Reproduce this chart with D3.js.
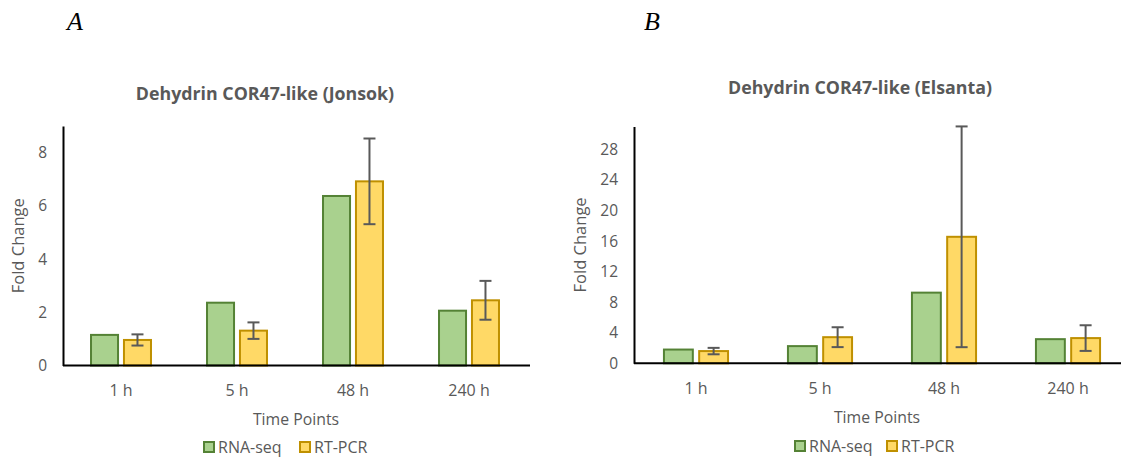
<!DOCTYPE html>
<html>
<head>
<meta charset="utf-8">
<script src="https://cdn.jsdelivr.net/npm/d3@7"></script>
<style>
  body { margin: 0; background: #fff; }
  svg { display: block; font-family: 'Open Sans', sans-serif; }
</style>
</head>
<body>
<svg id="chart" width="1121" height="459"></svg>
<script>
const categories = ['1 h', '5 h', '48 h', '240 h'];
const seriesNames = ['RNA-seq', 'RT-PCR'];

const jonsokRna = [1.15, 2.36, 6.37, 2.06];
const jonsokPcr = [0.96, 1.31, 6.92, 2.45];
const jonsokPcrErr = [0.21, 0.31, 1.61, 0.73];
const jonsokTicks = [0, 2, 4, 6, 8];

const elsantaRna = [1.8, 2.25, 9.25, 3.16];
const elsantaPcr = [1.6, 3.42, 16.56, 3.3];
const elsantaPcrErr = [0.42, 1.3, 14.45, 1.68];
const elsantaTicks = [0, 4, 8, 12, 16, 20, 24, 28];

const fills = ['#a9d18e', '#ffd966'];
const strokes = ['#548235', '#bf9000'];
const textColor = '#595959';

const svg = d3.select('#chart');

function drawPanel(opt) {
  let g = svg.append('g');

  let x = d3.scaleBand().domain(categories).range([opt.left, opt.right]);
  let y = d3.scaleLinear().domain([0, opt.yMax]).range([opt.bottom, opt.top]);
  let groupW = x.bandwidth() * 0.517;
  let xs = d3.scaleBand().domain(seriesNames)
    .range([(x.bandwidth() - groupW) / 2, (x.bandwidth() + groupW) / 2])
    .paddingInner(0.18);

  // panel letter
  g.append('text')
    .attr('x', opt.letterX).attr('y', 30)
    .attr('font-family', 'Liberation Serif')
    .attr('font-style', 'italic')
    .attr('font-size', 26)
    .attr('fill', '#000')
    .text(opt.letter);

  // title
  g.append('text')
    .attr('x', opt.titleX).attr('y', opt.titleY)
    .attr('text-anchor', 'middle')
    .attr('font-size', 17.8)
    .attr('font-weight', 'bold')
    .attr('fill', textColor)
    .text(opt.title);

  let rows = categories.map((c, i) => ({
    cat: c,
    vals: [opt.rna[i], opt.pcr[i]],
    err: opt.err[i]
  }));

  let groups = g.selectAll('g.cat').data(rows).join('g')
    .attr('class', 'cat')
    .attr('transform', d => `translate(${x(d.cat)},0)`);

  groups.selectAll('rect').data(d => d.vals.map((v, k) => ({ name: seriesNames[k], v, k })))
    .join('rect')
    .attr('x', d => xs(d.name))
    .attr('y', d => y(d.v))
    .attr('width', xs.bandwidth())
    .attr('height', d => y(0) - y(d.v))
    .attr('fill', d => fills[d.k])
    .attr('stroke', d => strokes[d.k])
    .attr('stroke-width', 2);

  // error bars on RT-PCR
  let ex = d => xs('RT-PCR') + xs.bandwidth() / 2;
  let eb = groups.append('g').attr('stroke', textColor).attr('stroke-width', 2);
  eb.append('line')
    .attr('x1', ex).attr('x2', ex)
    .attr('y1', d => y(d.vals[1] + d.err))
    .attr('y2', d => y(Math.max(0, d.vals[1] - d.err)));
  [1, -1].forEach(s => {
    eb.append('line')
      .attr('x1', d => ex(d) - 6).attr('x2', d => ex(d) + 6)
      .attr('y1', d => y(d.vals[1] + s * d.err))
      .attr('y2', d => y(d.vals[1] + s * d.err));
  });

  // axes
  let yAxis = d3.axisLeft(y).tickValues(opt.ticks).tickSize(0).tickPadding(opt.tickPad);
  let ya = g.append('g').attr('transform', `translate(${opt.left},0)`).call(yAxis);
  ya.select('.domain').attr('stroke', '#000').attr('stroke-width', 2);
  ya.selectAll('text').attr('fill', textColor).attr('font-size', 15.5).attr('font-family', 'Open Sans');

  let xAxis = d3.axisBottom(x).tickSize(0).tickPadding(19);
  let xa = g.append('g').attr('transform', `translate(0,${opt.bottom})`).call(xAxis);
  xa.select('.domain').attr('stroke', '#000').attr('stroke-width', 2)
    .attr('d', `M${opt.left},0H${opt.axisEnd}`);
  xa.selectAll('text').attr('fill', textColor).attr('font-size', 16).attr('font-family', 'Open Sans');

  // axis titles
  g.append('text')
    .attr('transform', `translate(${opt.yTitleX},${(opt.top + opt.bottom) / 2}) rotate(-90)`)
    .attr('text-anchor', 'middle')
    .attr('dy', '0.35em')
    .attr('font-size', 16.5)
    .attr('fill', textColor)
    .text('Fold Change');

  g.append('text')
    .attr('x', opt.xTitleX).attr('y', opt.xTitleY)
    .attr('text-anchor', 'middle')
    .attr('font-size', 15.8)
    .attr('fill', textColor)
    .text('Time Points');

  // legend
  let lg = g.append('g').attr('transform', `translate(${opt.legendX},${opt.legendY})`);
  let items = lg.selectAll('g').data(seriesNames).join('g')
    .attr('transform', (d, i) => `translate(${i * opt.legendStep},0)`);
  items.append('rect')
    .attr('x', 0).attr('y', -5).attr('width', 10).attr('height', 10)
    .attr('fill', (d, i) => fills[i])
    .attr('stroke', (d, i) => strokes[i])
    .attr('stroke-width', 2);
  items.append('text')
    .attr('x', 14).attr('dy', '0.35em')
    .attr('font-size', 16)
    .attr('fill', textColor)
    .text(d => d);
}

drawPanel({
  letter: 'A', letterX: 67,
  title: 'Dehydrin COR47-like (Jonsok)', titleX: 265, titleY: 100,
  rna: jonsokRna, pcr: jonsokPcr, err: jonsokPcrErr, ticks: jonsokTicks,
  yMax: 9, left: 63, right: 527, axisEnd: 530, top: 126, bottom: 365.5,
  tickPad: 16, yTitleX: 18, xTitleX: 296, xTitleY: 425,
  legendX: 204, legendY: 447, legendStep: 96
});

drawPanel({
  letter: 'B', letterX: 644,
  title: 'Dehydrin COR47-like (Elsanta)', titleX: 860, titleY: 94,
  rna: elsantaRna, pcr: elsantaPcr, err: elsantaPcrErr, ticks: elsantaTicks,
  yMax: 31, left: 634, right: 1130, axisEnd: 1121, top: 126.5, bottom: 363.3,
  tickPad: 16, yTitleX: 580, xTitleX: 877, xTitleY: 423,
  legendX: 795, legendY: 446, legendStep: 92
});
</script>
</body>
</html>
